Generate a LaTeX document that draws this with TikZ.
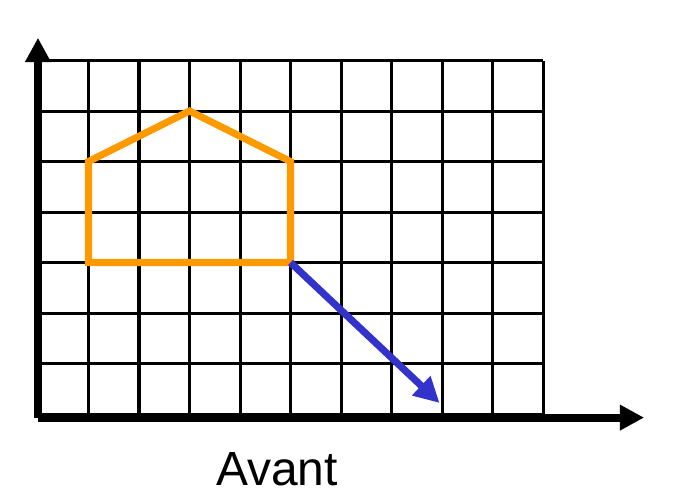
\documentclass[tikz,border=0pt]{standalone}
\usepackage{fontspec}
\setmainfont{Liberation Sans}
\usetikzlibrary{arrows.meta, positioning}
\definecolor{houseorange}{RGB}{255,153,0}
\definecolor{moveblue}{RGB}{51,51,204}

\begin{document}
\begin{tikzpicture}[
        gridline/.style={draw, line width=1.7pt, black},
        axis/.style={draw, -{Triangle[length=0.48cm, width=0.48cm]}, line width=4.5pt},
        house/.style={draw, line width=4pt, houseorange, line join=miter},
        move/.style={draw, -{Triangle[length=0.5cm, width=0.5cm]}, line width=4pt, moveblue},
        label/.style={font=\fontsize{27}{31}\selectfont, anchor=base}
        ]

        \useasboundingbox (-0.752,-1.743) rectangle (12.77,8.198);

        % Grid
        \draw [gridline] (0,0) grid (10,7);

        % Points
        \coordinate (origin) at (0,-0.07);
        \coordinate (xend) at (12.0,-0.07);
        \coordinate (yend) at (0,7.45);
        \coordinate (h1) at (1,3);
        \coordinate (h2) at (5,3);
        \coordinate (h3) at (5,5);
        \coordinate (h4) at (3,6);
        \coordinate (h5) at (1,5);
        \coordinate (target) at (7.95,0.22);

        % Axes
        \draw [axis] (origin) -- (xend);
        \draw [axis] (origin) -- (yend);

        % House
        \draw [house] (h1) -- (h2) -- (h3) -- (h4) -- (h5) -- cycle;

        % Arrow
        \draw [move] (h2) -- (target);

        % Label
        \node (avant) [label] at (4.73,-1.406) {Avant};

    \end{tikzpicture}
\end{document}
